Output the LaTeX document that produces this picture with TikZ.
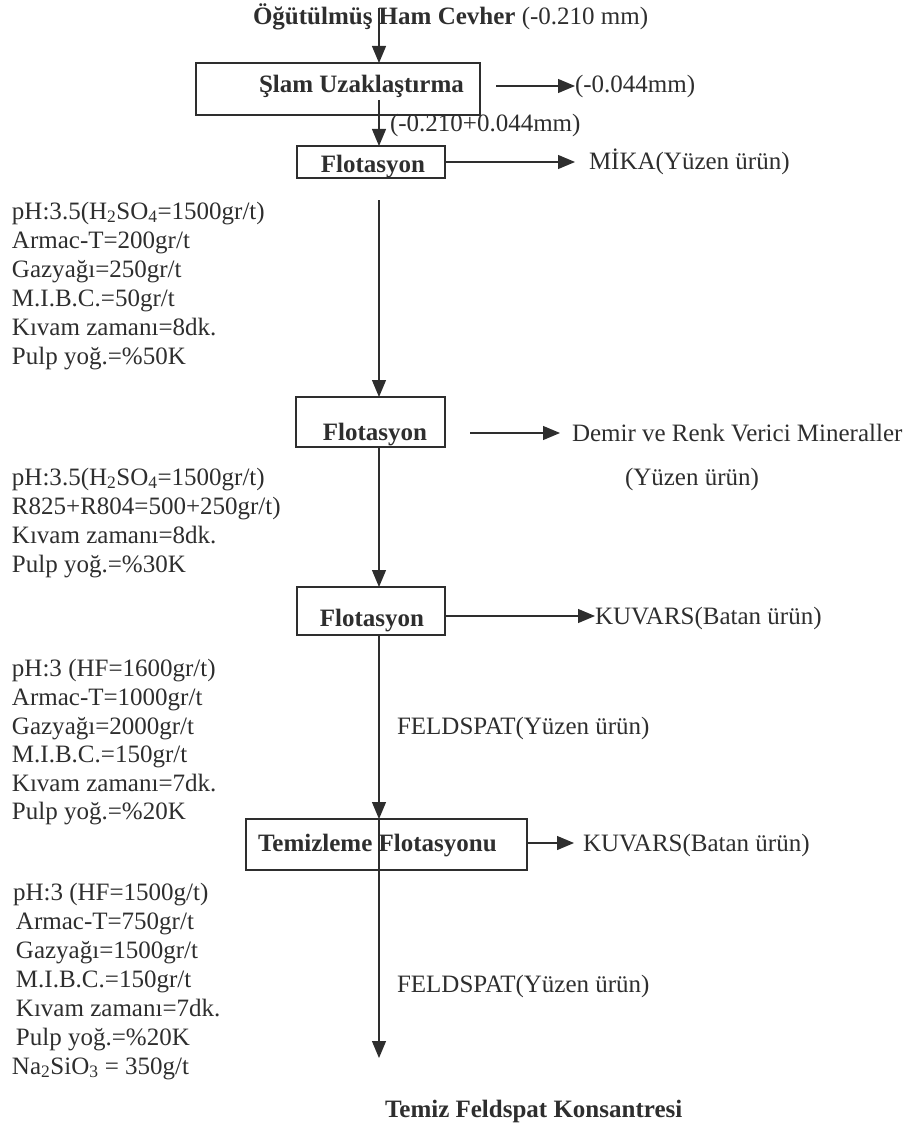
\documentclass[tikz,border=0pt]{standalone}
\usepackage{fontspec}
\setmainfont{Liberation Serif}
\usetikzlibrary{arrows.meta}
\definecolor{ink}{gray}{0.18}
\begin{document}
\begin{tikzpicture}[x=1pt,y=-1pt,
  every node/.style={inner sep=0pt, outer sep=0pt, text=ink, font=\fontsize{25}{29}\selectfont},
  txt/.style={anchor=base west},
  ctxt/.style={anchor=base},
  boxshape/.style={draw=ink, line width=1.4pt, rectangle, anchor=north west},
  flow/.style={draw=ink, line width=1.2pt, -{Triangle[length=17pt,width=14pt]}},
  plain/.style={draw=ink, line width=1.2pt}
]
\useasboundingbox (0,0) rectangle (917,1126);

% title
\node[txt] (title) at (253,25) {\textbf{Öğütülmüş Ham Cevher} (-0.210 mm)};
\coordinate (c0) at (379,8);

% box 1
\node[boxshape, minimum width=284pt, minimum height=52pt] (b1) at (196,63) {};
\node[txt] (t1) at (259,93) {\textbf{Şlam Uzaklaştırma}};
\node[txt] (o1) at (575,93) {(-0.044mm)};
\coordinate (h1) at (496,86);
\coordinate (c1) at (379,100);
\node[txt] (l1) at (390,132) {(-0.210+0.044mm)};

% box 2
\node[boxshape, minimum width=148pt, minimum height=32pt] (b2) at (297,146) {};
\node[ctxt] (t2) at (373,172) {\textbf{Flotasyon}};
\node[txt] (o2) at (589,170) {MİKA(Yüzen ürün)};
\coordinate (h2) at (445,162);
\coordinate (c2) at (379,200);

% block 1
\node[txt] (p11) at (12,219) {pH:3.5(H\textsubscript{2}SO\textsubscript{4}=1500gr/t)};
\node[txt] (p12) at (12,248) {Armac-T=200gr/t};
\node[txt] (p13) at (12,277) {Gazyağı=250gr/t};
\node[txt] (p14) at (12,306) {M.I.B.C.=50gr/t};
\node[txt] (p15) at (12,335) {Kıvam zamanı=8dk.};
\node[txt] (p16) at (12,364) {Pulp yoğ.=\%50K};

% box 3
\node[boxshape, minimum width=149pt, minimum height=50pt] (b3) at (296,397) {};
\node[ctxt] (t3) at (375,440) {\textbf{Flotasyon}};
\coordinate (h3) at (470,433);
\node[txt] (o3) at (572,441) {Demir ve Renk Verici Mineraller};
\node[ctxt] (o3b) at (692,485) {(Yüzen ürün)};

% block 2
\node[txt] (p21) at (12,485) {pH:3.5(H\textsubscript{2}SO\textsubscript{4}=1500gr/t)};
\node[txt] (p22) at (12,514) {R825+R804=500+250gr/t)};
\node[txt] (p23) at (12,543) {Kıvam zamanı=8dk.};
\node[txt] (p24) at (12,572) {Pulp yoğ.=\%30K};

% box 4
\node[boxshape, minimum width=148pt, minimum height=48pt] (b4) at (297,587) {};
\node[ctxt] (t4) at (372,626) {\textbf{Flotasyon}};
\node[txt] (o4) at (595,624) {KUVARS(Batan ürün)};
\coordinate (h4) at (445,616);

% block 3
\node[txt] (p31) at (12,676) {pH:3 (HF=1600gr/t)};
\node[txt] (p32) at (12,705) {Armac-T=1000gr/t};
\node[txt] (p33) at (12,734) {Gazyağı=2000gr/t};
\node[txt] (p34) at (12,762) {M.I.B.C.=150gr/t};
\node[txt] (p35) at (12,791) {Kıvam zamanı=7dk.};
\node[txt] (p36) at (12,819) {Pulp yoğ.=\%20K};
\node[txt] (f1) at (397,734) {FELDSPAT(Yüzen ürün)};

% box 5
\node[boxshape, minimum width=281pt, minimum height=51pt] (b5) at (246,819) {};
\node[txt] (t5) at (258,851) {\textbf{Temizleme Flotasyonu}};
\node[txt] (o5) at (583,851) {KUVARS(Batan ürün)};
\coordinate (h5) at (527,843);

% block 4
\node[txt] (p41) at (13,900) {pH:3 (HF=1500g/t)};
\node[txt] (p42) at (16,929) {Armac-T=750gr/t};
\node[txt] (p43) at (16,958) {Gazyağı=1500gr/t};
\node[txt] (p44) at (16,987) {M.I.B.C.=150gr/t};
\node[txt] (p45) at (16,1016) {Kıvam zamanı=7dk.};
\node[txt] (p46) at (16,1045) {Pulp yoğ.=\%20K};
\node[txt] (p47) at (12,1074) {Na\textsubscript{2}SiO\textsubscript{3} = 350g/t};
\node[txt] (f2) at (397,992) {FELDSPAT(Yüzen ürün)};
\coordinate (cend) at (379,1058);
\node[txt] (fin) at (385,1117) {\textbf{Temiz Feldspat Konsantresi}};

% vertical flow
\draw[flow] (c0) -- (c0 |- b1.north);
\draw[flow] (c1) -- (c1 |- b2.north);
\draw[flow] (c2) -- (c2 |- b3.north);
\draw[flow] (c2 |- b3.south) -- (c2 |- b4.north);
\draw[flow] (c2 |- b4.south) -- (c2 |- b5.north);
\draw[flow] (c2 |- b5.north) -- (cend);

% horizontal flow
\draw[flow] (h1) -- (h1 -| o1.west);
\draw[flow] (h2) -- (575,162);
\draw[flow] (h3) -- (560,433);
\draw[flow] (h4) -- (h4 -| o4.west);
\draw[flow] (h5) -- (574,843);
\end{tikzpicture}
\end{document}
